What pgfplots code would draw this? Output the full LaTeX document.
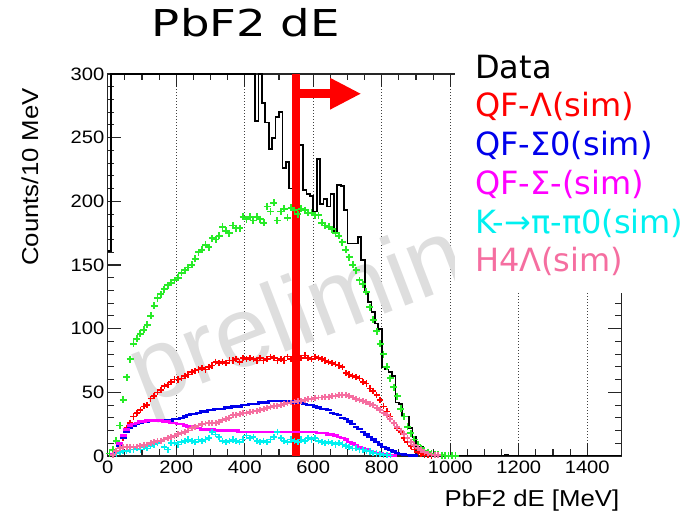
\documentclass[border=0pt]{standalone}
\usepackage{fontspec}
\usepackage{graphicx}
\usepackage{pgfplots}
\usepackage{pgfplotstable}
\pgfplotsset{compat=1.18}
\newfontfamily\arial{Liberation Sans}[FakeStretch=1.12]
\newfontfamily\wmfont{Liberation Sans}
\newfontfamily\dejavu{DejaVu Sans}
\definecolor{cgreen}{RGB}{40,235,40}
\definecolor{cred}{RGB}{255,0,0}
\definecolor{cblue}{RGB}{0,0,235}
\definecolor{cmag}{RGB}{255,0,255}
\definecolor{ccyan}{RGB}{0,240,240}
\definecolor{cpink}{RGB}{245,110,160}

\pgfplotstableread{
x y
5 2
15 5
25 12
35 24
45 44
55 62
65 76
75 88
85 92
95 96
105 99
115 103
125 110
135 118
145 124
155 127
165 131
175 134
185 136
195 138
205 140
215 144
225 146
235 148
245 150
255 155
265 160
275 162
285 166
295 164
305 171
315 170
325 173
335 180
345 177
355 175
365 181
375 179
385 179
395 188
405 186
415 188
425 185
435 188
445 186
455 183
465 196
475 192
485 199
495 185
505 192
515 194
525 187
535 195
545 193
555 190
565 194
575 193
585 191
595 191
605 189
615 189
625 183
635 181
645 180
655 178
665 175
675 173
685 168
695 162
705 156
715 150
725 146
735 138
745 135
755 129
765 117
775 107
785 98
795 88
805 80
815 70
825 61
835 54
845 47
855 37
865 31
875 23
885 18
895 13
905 9
915 6
925 4
935 3
945 2
955 1.2
965 1
975 0.6
985 0.4
995 0.3
1005 0.2
1015 0.1
}\tgreen

\pgfplotstableread{
x y
15 1
25 3
35 8
45 14
55 22
65 26
75 31
85 34
95 36
105 39
115 40
125 45
135 47
145 50
155 52
165 55
175 56
185 58
195 60
205 60
215 61
225 63
235 64
245 66
255 67
265 68
275 69
285 68
295 70
305 71
315 74
325 73
335 74
345 73
355 75
365 75
375 76
385 74
395 77
405 76
415 77
425 76
435 75
445 77
455 75
465 76
475 78
485 77
495 75
505 76
515 75
525 78
535 76
545 77
555 78
565 77
575 79
585 77
595 76
605 78
615 77
625 76
635 75
645 74
655 73
665 72
675 71
685 70
695 65
705 64
715 63
725 62
735 61
745 58
755 57
765 53
775 51
785 48
795 44
805 39
815 35
825 31
835 26
845 22
855 19
865 14
875 11
885 8
895 5
905 3
915 2
925 1
935 0.5
945 0.3
}\tred

\pgfplotstableread{
x y
15 1
25 3
35 8
45 14
55 19
65 22
75 24
85 25
95 26
105 27
115 27
125 28
135 28
145 28
155 28
165 28
175 28
185 28
195 29
205 29
215 30
225 31
235 32
245 33
255 33
265 34
275 35
285 35
295 36
305 36
315 37
325 37
335 37
345 38
355 38
365 39
375 39
385 39
395 40
405 40
415 41
425 41
435 41
445 42
455 42
465 42
475 43
485 43
495 43
505 43
515 43
525 43
535 43
545 42
555 42
565 42
575 41
585 40
595 40
605 39
615 38
625 37
635 37
645 36
655 34
665 33
675 32
685 30
695 29
705 27
715 25
725 23
735 21
745 19
755 17
765 15
775 13
785 11
795 9
805 7
815 6
825 4.5
835 3.5
845 2.5
855 1.8
865 1.2
875 0.8
885 0.5
895 0.3
}\tblue

\pgfplotstableread{
x y
15 1
25 4
35 10
45 16
55 21
65 24
75 25
85 26
95 27
105 27
115 28
125 28
135 28
145 28
155 28
165 27
175 27
185 26
195 26
205 25
215 25
225 24
235 23
245 23
255 22
265 22
275 21
285 21
295 21
305 21
315 20
325 20
335 20
345 20
355 20
365 20
375 20
385 19
395 19
405 19
415 19
425 19
435 19
445 19
455 19
465 19
475 19
485 19
495 19
505 19
515 19
525 19
535 19
545 19
555 19
565 19
575 19
585 19
595 19
605 19
615 18
625 18
635 18
645 17
655 17
665 16
675 15
685 14
695 13
705 11
715 10
725 8.5
735 7
745 6
755 5
765 4
775 3
785 2.5
795 2
805 1.5
815 1
825 0.6
835 0.4
}\tmag

\pgfplotstableread{
x y
15 1
25 2
35 3
45 4
55 4
65 5
75 5
85 6
95 5
105 7
115 6
125 8
135 9
145 10
155 12
165 7
175 5
185 10
195 10
205 9
215 11
225 12
235 13
245 12
255 11
265 13
275 12
285 13
295 14
305 19
315 17
325 15
335 12
345 11
355 12
365 13
375 12
385 11
395 13
405 16
415 14
425 15
435 12
445 11
455 12
465 11
475 13
485 15
495 19
505 14
515 12
525 11
535 13
545 12
555 11
565 13
575 12
585 14
595 13
605 14
615 12
625 11
635 10
645 11
655 10
665 9
675 10
685 9
695 8
705 7
715 6
725 6
735 5
745 5
755 4
765 3.5
775 2.5
785 2
795 1.5
805 1
815 0.7
825 0.5
}\tcyan

\pgfplotstableread{
x y
15 1
25 4
35 6
45 7
55 7
65 7
75 7
85 7.5
95 8
105 8.5
115 9
125 10
135 11
145 11.5
155 12
165 13
175 14
185 15
195 16
205 17
215 18
225 19
235 20
245 22
255 23
265 24
275 25
285 25.5
295 26
305 26
315 26
325 27
335 28
345 29
355 30
365 32
375 32.5
385 33
395 33.5
405 34
415 34.5
425 35
435 35.5
445 36
455 37
465 37.5
475 38.5
485 39
495 39.5
505 40
515 41
525 41.5
535 42
545 42.5
555 43
565 43
575 44
585 44.5
595 45
605 45.5
615 46
625 46
635 46.5
645 46.5
655 47
665 47
675 48
685 48
695 48
705 47
715 46
725 45
735 44
745 43
755 42.5
765 41
775 40
785 38
795 36
805 34
815 32
825 29
835 26
845 23
855 20
865 17
875 14
885 11
895 8.5
905 6
915 4.5
925 3
935 2
945 1.2
955 0.8
965 0.5
}\tpink

\begin{document}
\begin{tikzpicture}
\useasboundingbox (0pt,0pt) rectangle (697pt,517pt);
\begin{axis}[
  at={(107.8pt,61pt)}, anchor=south west,
  scale only axis, width=513.7pt, height=382pt,
  xmin=0, xmax=1500, ymin=0, ymax=300,
  xtick={0,200,...,1400}, minor x tick num=3,
  ytick={0,50,...,300}, minor y tick num=4,
  tick align=inside,
  major tick length=13pt, minor tick length=6.5pt,
  axis line style={line width=1.3pt, black!85},
  every tick/.style={line width=1.1pt, black!85},
  xmajorgrids=true,
  major x grid style={black!75, line width=0.9pt, dash pattern=on 1.1pt off 1.9pt},
  /pgf/number format/assume math mode=true,
  /pgf/number format/set thousands separator={},
  xticklabel style={font=\arial\fontsize{18}{18}\selectfont, yshift=-1pt},
  yticklabel style={font=\arial\fontsize{18}{18}\selectfont},
  clip=true,
]
% watermark
\node[rotate=21, anchor=base west, text=black!13, inner sep=0pt,
      font=\wmfont\fontsize{100}{100}\selectfont]
      at (axis cs:108,39) {prelimin};

% data histogram
\addplot[const plot, black, line width=1.7pt] coordinates {
(0,161) (10,300) (420,300) (430,263) (440,300) (450,277) (460,262) (470,241)
(480,250) (490,266) (500,270) (510,226) (520,231) (530,210) (540,215) (550,215)
(560,244) (570,209) (580,206) (590,204) (600,192) (610,233) (620,198) (630,202)
(640,196) (650,206) (660,175) (670,213) (680,212) (690,193) (700,167) (710,167)
(720,167) (730,172) (740,154) (750,129) (760,121) (770,113) (780,104) (790,100)
(800,70) (810,68) (820,66) (830,63) (840,42) (850,41) (860,31) (870,31)
(880,22) (890,15) (900,7) (910,7) (920,0) (1160,1) (1170,0) (1500,0)};

\addplot[only marks, mark=+, mark size=3.5pt, cgreen, mark options={line width=1.8pt}] table {\tgreen};
\addplot[only marks, mark=+, mark size=3.1pt, cred, mark options={line width=1.6pt}] table {\tred};
\addplot[only marks, mark=-, mark size=3.3pt, cblue, mark options={line width=2.4pt}] table {\tblue};
\addplot[only marks, mark=-, mark size=3.3pt, cmag, mark options={line width=2.6pt}] table {\tmag};
\addplot[only marks, mark=+, mark size=3.1pt, ccyan, mark options={line width=1.6pt}] table {\tcyan};
\addplot[only marks, mark=+, mark size=2.9pt, cpink, mark options={line width=1.8pt}] table {\tpink};

% cut and arrow
\draw[cred, line width=8pt] (axis cs:550,0) -- (axis cs:550,300);
\draw[cred, line width=9pt] (axis cs:550,284.5) -- (axis cs:652,284.5);
\fill[cred] (axis cs:649,297) -- (axis cs:738,284.5) -- (axis cs:649,272) -- cycle;
\end{axis}

% legend box covering the frame
\fill[white] (455pt,224pt) rectangle (697pt,467pt);
\begin{scope}[every node/.style={anchor=base west, inner sep=0pt, font=\dejavu\fontsize{32}{33}\selectfont}]
\node[text=black] at (475pt,438.7pt) {Data};
\node[text=cred] at (475pt,400pt) {QF-Λ(sim)};
\node[text=cblue] at (475pt,361.3pt) {QF-Σ0(sim)};
\node[text=cmag] at (475pt,322.6pt) {QF-Σ-(sim)};
\node[text=ccyan] at (475pt,283.9pt) {K-→π-π0(sim)};
\node[text=cpink] at (475pt,245.2pt) {H4Λ(sim)};
\end{scope}

% title
\node[anchor=base west, inner sep=0pt] at (151.7pt,480.5pt)
  {\scalebox{1.26}[1]{\dejavu\fontsize{37}{38}\selectfont PbF2 dE}};
% axis titles
\node[anchor=base east, inner sep=0pt, font=\arial\fontsize{23}{24}\selectfont]
  at (619.5pt,10.3pt) {PbF2 dE [MeV]};
\node[rotate=90, anchor=east, inner sep=0pt, font=\arial\fontsize{23}{24}\selectfont]
  at (30pt,429pt) {Counts/10 MeV};
\end{tikzpicture}
\end{document}
